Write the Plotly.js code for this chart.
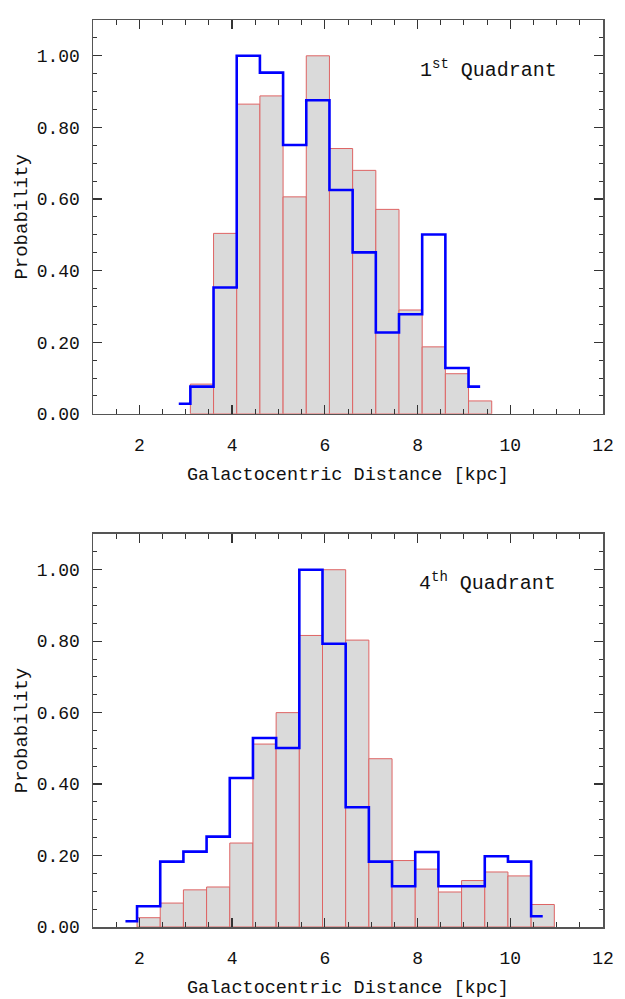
<!DOCTYPE html>
<html>
<head>
<meta charset="utf-8">
<script src="https://cdn.plot.ly/plotly-3.0.1.min.js"></script>
<style>html,body{margin:0;padding:0;background:#fff;}#chart{width:625px;height:999px;}</style>
</head>
<body>
<div id="chart"></div>
<script>
// ---- 1st quadrant ----
const q1BarCenters = [3.35, 3.85, 4.35, 4.85, 5.35, 5.85, 6.35, 6.85, 7.35, 7.85, 8.35, 8.85, 9.35];
const q1BarValues  = [0.083, 0.504, 0.865, 0.888, 0.606, 1.0, 0.741, 0.680, 0.571, 0.290, 0.187, 0.112, 0.036];
const q1StepCenters = [2.85, 3.35, 3.85, 4.35, 4.85, 5.35, 5.85, 6.35, 6.85, 7.35, 7.85, 8.35, 8.85, 9.35];
const q1StepValues  = [0.028, 0.076, 0.353, 1.0, 0.953, 0.751, 0.876, 0.625, 0.451, 0.227, 0.278, 0.501, 0.128, 0.076];

// ---- 4th quadrant ----
const q4BarCenters = [2.2, 2.7, 3.2, 3.7, 4.2, 4.7, 5.2, 5.7, 6.2, 6.7, 7.2, 7.7, 8.2, 8.7, 9.2, 9.7, 10.2, 10.7];
const q4BarValues  = [0.026, 0.067, 0.104, 0.112, 0.235, 0.512, 0.600, 0.816, 1.0, 0.803, 0.471, 0.186, 0.162, 0.098, 0.130, 0.154, 0.143, 0.063];
const q4StepCenters = [1.7, 2.2, 2.7, 3.2, 3.7, 4.2, 4.7, 5.2, 5.7, 6.2, 6.7, 7.2, 7.7, 8.2, 8.7, 9.2, 9.7, 10.2, 10.7];
const q4StepValues  = [0.016, 0.058, 0.183, 0.211, 0.253, 0.417, 0.529, 0.501, 1.0, 0.793, 0.335, 0.183, 0.114, 0.210, 0.114, 0.114, 0.198, 0.183, 0.030];

const binWidth = 0.5;
const xTitle = 'Galactocentric Distance [kpc]';
const yTitle = 'Probability';
const labels = ['1<sup>st</sup>&nbsp;Quadrant', '4<sup>th</sup>&nbsp;Quadrant'];

const FONT = 'Liberation Mono, monospace';
const barStyle = {color: '#dadada', line: {color: 'rgb(222,100,100)', width: 1}};
const stepStyle = {color: '#0000ff', width: 2.6, shape: 'hvh'};

const traces = [
  {type: 'bar', x: q1BarCenters, y: q1BarValues, width: binWidth, marker: barStyle, xaxis: 'x', yaxis: 'y', hoverinfo: 'skip'},
  {type: 'scatter', mode: 'lines', x: q1StepCenters, y: q1StepValues, line: stepStyle, xaxis: 'x', yaxis: 'y'},
  {type: 'bar', x: q4BarCenters, y: q4BarValues, width: binWidth, marker: barStyle, xaxis: 'x2', yaxis: 'y2', hoverinfo: 'skip'},
  {type: 'scatter', mode: 'lines', x: q4StepCenters, y: q4StepValues, line: stepStyle, xaxis: 'x2', yaxis: 'y2'}
];

function xAx(anchor) {
  return {
    anchor: anchor, range: [1, 12], tick0: 0, dtick: 2, ticks: 'inside', ticklen: 9, tickwidth: 1.2,
    tickcolor: '#333', showline: true, linecolor: '#555', linewidth: 1.5, mirror: 'allticks',
    showgrid: false, zeroline: false, ticklabelstandoff: 14,
    minor: {dtick: 0.5, ticks: 'inside', ticklen: 5, tickwidth: 1, tickcolor: '#333', showgrid: false},
    tickfont: {family: FONT, size: 18, color: '#111'},
    title: {text: xTitle, font: {family: FONT, size: 18.5, color: '#111'}, standoff: 12}
  };
}
function yAx(anchor, domain) {
  return {
    anchor: anchor, domain: domain, range: [0, 1.1], tick0: 0, dtick: 0.2, tickformat: '.2f',
    ticks: 'inside', ticklen: 9, tickwidth: 1.2, tickcolor: '#333',
    showline: true, linecolor: '#555', linewidth: 1.5, mirror: 'allticks',
    showgrid: false, zeroline: false, ticklabelstandoff: 8,
    minor: {dtick: 0.05, ticks: 'inside', ticklen: 4, tickwidth: 1, tickcolor: '#333', showgrid: false},
    tickfont: {family: FONT, size: 18, color: '#111'},
    title: {text: yTitle, font: {family: FONT, size: 19, color: '#111'}, standoff: 4}
  };
}

const layout = {
  width: 625, height: 999,
  margin: {l: 93, r: 22, t: 20, b: 71.5},
  paper_bgcolor: '#fff', plot_bgcolor: '#fff',
  showlegend: false, barmode: 'overlay',
  xaxis: xAx('y'),
  yaxis: yAx('x', [0.5658, 1]),
  xaxis2: xAx('y2'),
  yaxis2: yAx('x2', [0, 0.4333]),
  annotations: [
    {xref: 'x', yref: 'y', x: 8.0, y: 0.963, xanchor: 'left', yanchor: 'middle', text: labels[0], showarrow: false, font: {family: FONT, size: 20, color: '#111'}},
    {xref: 'x2', yref: 'y2', x: 7.98, y: 0.965, xanchor: 'left', yanchor: 'middle', text: labels[1], showarrow: false, font: {family: FONT, size: 20, color: '#111'}}
  ]
};

Plotly.newPlot('chart', traces, layout, {displayModeBar: false, staticPlot: true});
</script>
</body>
</html>
